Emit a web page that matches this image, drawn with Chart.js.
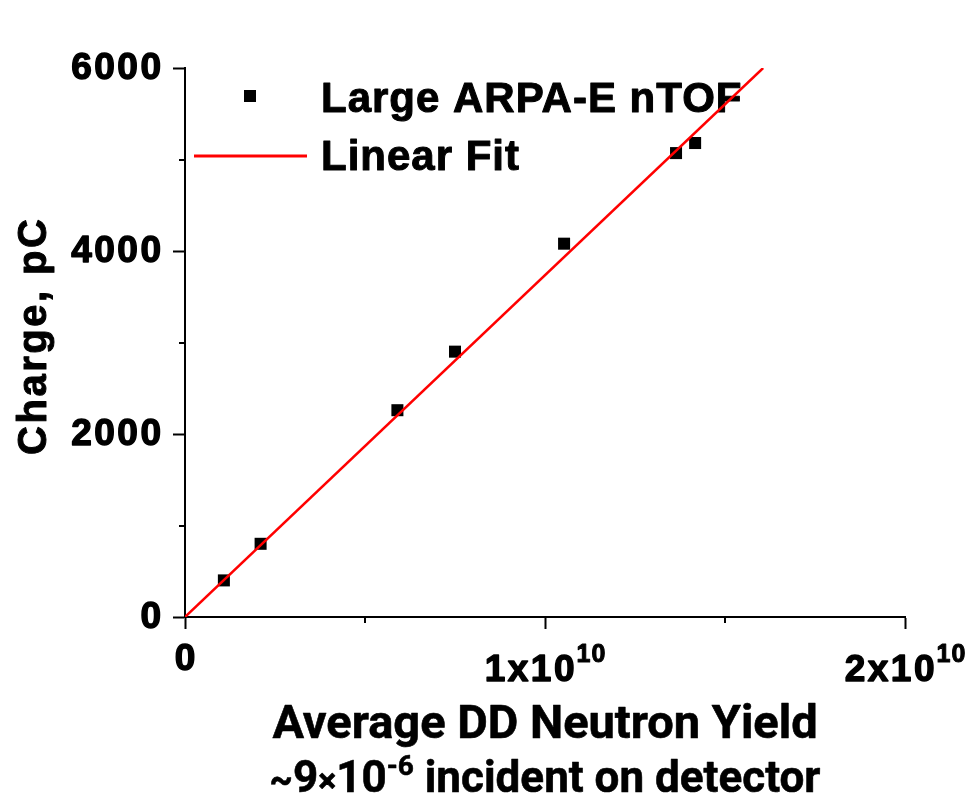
<!DOCTYPE html>
<html>
<head>
<meta charset="utf-8">
<title>Charge vs DD Neutron Yield</title>
<script src="https://cdn.jsdelivr.net/npm/chart.js@4/dist/chart.umd.min.js"></script>
<style>
    html, body { margin: 0; padding: 0; background: #fff; }
    #wrap { width: 968px; height: 800px; position: relative; }
</style>
</head>
<body>
<div id="wrap"><canvas id="chart" width="968" height="800"></canvas></div>
<script>
// Measured points: average DD neutron yield vs collected charge (pC).
var yieldValues = [1.08e9, 2.1e9, 5.9e9, 7.5e9, 1.053e10, 1.364e10, 1.417e10];
var chargeValues = [400, 800, 2260, 2900, 4080, 5070, 5180];

// Linear fit through the origin, end points.
var fitYield = [0, 1.606e10];
var fitCharge = [0, 6000];

// Axis ticks.
var xMajorTicks = [0, 1e10, 2e10];
var xMinorTicks = [5e9, 1.5e10];
var xTickLabels = [['0', ''], ['1x10', '10'], ['2x10', '10']];
var yMajorTicks = [0, 2000, 4000, 6000];
var yMinorTicks = [1000, 3000, 5000];
var yTickLabels = ['0', '2000', '4000', '6000'];

var seriesNames = ['Large ARPA-E nTOF', 'Linear Fit'];

(function() {
    'use strict';

    var ARIAL = '"Liberation Sans", Arial, sans-serif';
    var ROBOTO = 'Roboto, "Liberation Sans", sans-serif';

    function zip(xs, ys) {
        return xs.map(function(x, i) { return { x: x, y: ys[i] }; });
    }

    function measureSpaced(ctx, text, spacing) {
        ctx.letterSpacing = spacing + 'px';
        var w = ctx.measureText(text).width - spacing;
        ctx.letterSpacing = '0px';
        return w;
    }

    // Draw text with letter spacing, aligned by its visible width.
    // A thin stroke of the same colour gives the heavy look of the labels.
    function spacedText(ctx, text, x, y, spacing, align, heavy) {
        var w = measureSpaced(ctx, text, spacing);
        var left = x;
        if (align === 'right') left = x - w;
        else if (align === 'center') left = x - w / 2;
        ctx.letterSpacing = spacing + 'px';
        ctx.textAlign = 'left';
        ctx.fillText(text, left, y);
        if (heavy) {
            ctx.lineWidth = heavy;
            ctx.strokeStyle = ctx.fillStyle;
            ctx.lineJoin = 'round';
            ctx.strokeText(text, left, y);
        }
        ctx.letterSpacing = '0px';
        return w;
    }

    // Draw a run of [text, size, rise] pieces centred at cx.
    function textRun(ctx, pieces, cx, baseline, family, heavy) {
        var total = 0;
        pieces.forEach(function(p) {
            ctx.font = 'bold ' + p[1] + 'px ' + family;
            p.w = measureSpaced(ctx, p[0], 0);
            total += p.w;
        });
        var x = cx - total / 2;
        pieces.forEach(function(p) {
            ctx.font = 'bold ' + p[1] + 'px ' + family;
            spacedText(ctx, p[0], x, baseline - p[2], 0, 'left', heavy);
            x += p.w;
        });
    }

    /**
     * Minor ticks, tick labels, axis titles and legend.
     */
    var decorations = {
        id: 'decorations',
        beforeDatasetsDraw: function(chart) {
            var ctx = chart.ctx;
            ctx.save();
            ctx.fillStyle = '#000';
            ctx.textBaseline = 'alphabetic';

            // Legend, under the fit line.
            ctx.fillRect(244, 90, 12, 12);
            ctx.strokeStyle = '#ff0000';
            ctx.lineWidth = 3;
            ctx.beginPath();
            ctx.moveTo(194, 156);
            ctx.lineTo(307, 156);
            ctx.stroke();
            ctx.font = 'bold 42px ' + ARIAL;
            spacedText(ctx, seriesNames[0], 321, 112, 1, 'left', 1);
            spacedText(ctx, seriesNames[1], 321, 170, 1, 'left', 1);
            ctx.restore();
        },
        afterDraw: function(chart) {
            var ctx = chart.ctx;
            var xs = chart.scales.x;
            var ys = chart.scales.y;
            var left = chart.chartArea.left;
            var bottom = chart.chartArea.bottom;

            ctx.save();
            ctx.strokeStyle = '#000';
            ctx.fillStyle = '#000';
            ctx.lineWidth = 2;

            // Minor ticks.
            ctx.beginPath();
            yMinorTicks.forEach(function(v) {
                var py = Math.round(ys.getPixelForValue(v));
                ctx.moveTo(left, py);
                ctx.lineTo(left - 6, py);
            });
            xMinorTicks.forEach(function(v) {
                var px = Math.round(xs.getPixelForValue(v));
                ctx.moveTo(px, bottom);
                ctx.lineTo(px, bottom + 6);
            });
            ctx.stroke();

            // Y tick labels.
            ctx.textBaseline = 'alphabetic';
            ctx.font = 'bold 37px ' + ARIAL;
            yMajorTicks.forEach(function(v, i) {
                var py = ys.getPixelForValue(v);
                spacedText(ctx, yTickLabels[i], left - 24, py + 11, 2.5, 'right', 1.4);
            });

            // X tick labels, with superscript exponents.
            xMajorTicks.forEach(function(v, i) {
                var px = xs.getPixelForValue(v);
                var main = xTickLabels[i][0];
                var sup = xTickLabels[i][1];
                ctx.font = 'bold 37px ' + ARIAL;
                var wMain = measureSpaced(ctx, main, 2.5);
                ctx.font = 'bold 25px ' + ARIAL;
                var wSup = sup ? measureSpaced(ctx, sup, 1) + 2 : 0;
                var x0 = px - (wMain + wSup) / 2;
                var base = sup ? 681 : 670;
                ctx.font = 'bold 37px ' + ARIAL;
                spacedText(ctx, main, x0, base, 2.5, 'left', 1.4);
                if (sup) {
                    ctx.font = 'bold 25px ' + ARIAL;
                    spacedText(ctx, sup, x0 + wMain + 2, 662, 1, 'left', 1);
                }
            });

            // X axis title, two lines.
            var cx = (xs.getPixelForValue(0) + xs.getPixelForValue(2e10)) / 2;
            textRun(ctx, [['Average DD Neutron Yield', 47, 0]], cx, 738, ROBOTO, 0.6);
            textRun(ctx, [
                ['~', 36, 0], ['9', 44, 0], ['\u00d7', 34, 0], ['10', 44, 0],
                ['-6', 28, 17], [' incident on detector', 44, 0]
            ], cx, 792, ROBOTO, 0.6);

            // Y axis title, rotated.
            ctx.translate(46, 337);
            ctx.rotate(-Math.PI / 2);
            ctx.font = 'bold 40px ' + ARIAL;
            spacedText(ctx, 'Charge, pC', 0, 0, 2.5, 'center', 1);

            ctx.restore();
        }
    };

    var axisCommon = {
        type: 'linear',
        border: { display: true, color: '#000', width: 2 },
        grid: {
            drawOnChartArea: false,
            drawTicks: true,
            tickLength: 12,
            tickWidth: 2,
            tickColor: '#000'
        }
    };

    var ctx = document.getElementById('chart').getContext('2d');
    new Chart(ctx, {
        type: 'scatter',
        data: {
            datasets: [
                {
                    label: seriesNames[0],
                    data: zip(yieldValues, chargeValues),
                    pointStyle: 'rect',
                    pointRadius: 8.5,
                    pointHoverRadius: 8.5,
                    backgroundColor: '#000',
                    borderWidth: 0,
                    order: 2
                },
                {
                    label: seriesNames[1],
                    type: 'line',
                    data: zip(fitYield, fitCharge),
                    borderColor: '#ff0000',
                    borderWidth: 2.5,
                    pointRadius: 0,
                    fill: false,
                    tension: 0,
                    order: 1
                }
            ]
        },
        options: {
            responsive: false,
            animation: false,
            layout: { padding: { top: 68, right: 63, left: 0, bottom: 0 } },
            plugins: {
                legend: { display: false },
                tooltip: { enabled: false }
            },
            scales: {
                x: Object.assign({}, axisCommon, {
                    min: 0,
                    max: 2e10,
                    ticks: { display: false, stepSize: 1e10 },
                    afterFit: function(scale) { scale.height = 183; }
                }),
                y: Object.assign({}, axisCommon, {
                    min: 0,
                    max: 6000,
                    ticks: { display: false, stepSize: 2000 },
                    afterFit: function(scale) { scale.width = 185; }
                })
            }
        },
        plugins: [decorations]
    });
})();
</script>
</body>
</html>
